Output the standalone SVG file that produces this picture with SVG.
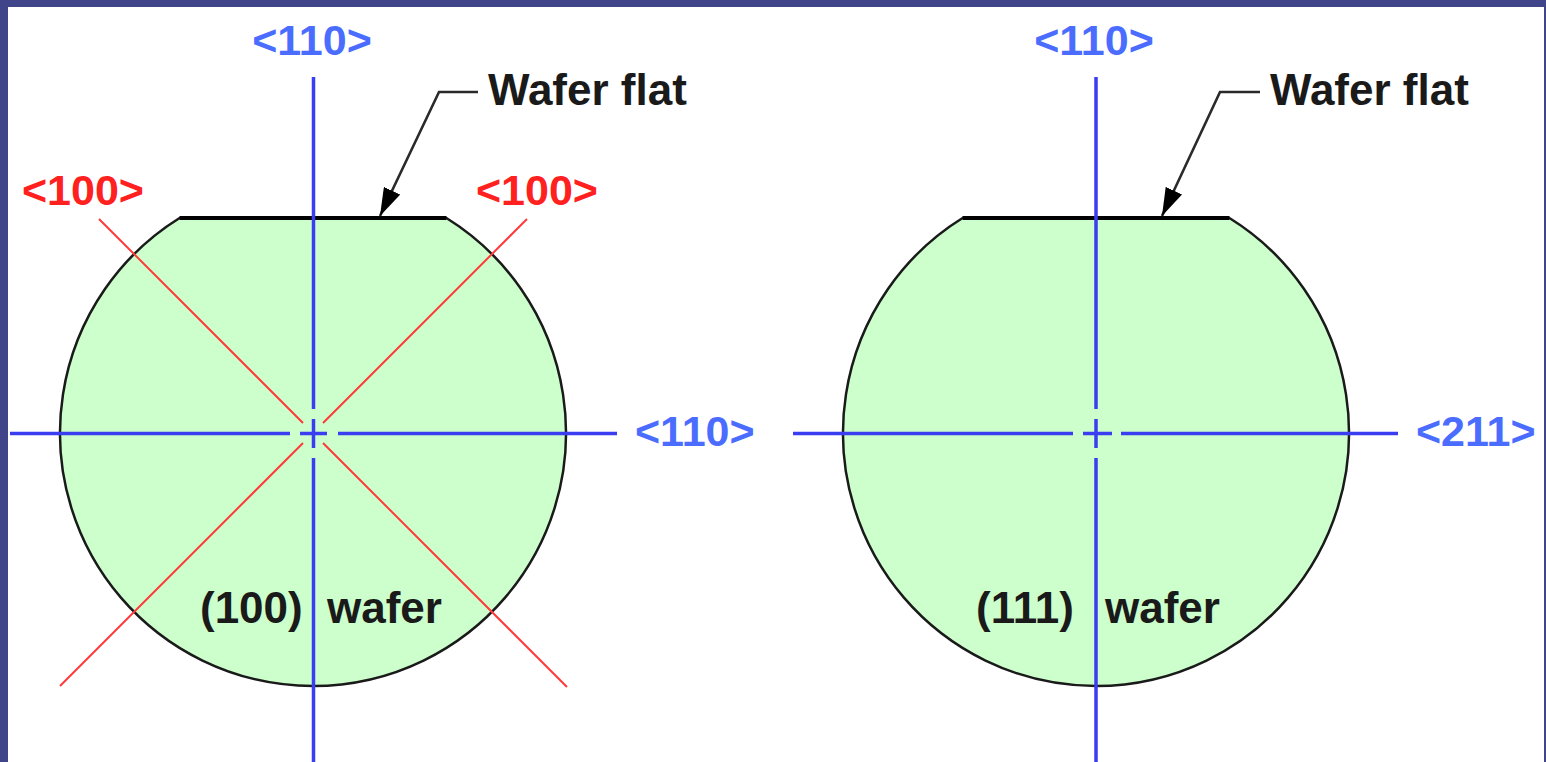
<svg xmlns="http://www.w3.org/2000/svg" width="1546" height="762" viewBox="0 0 1546 762">
<style>
.lbl{font-family:"Liberation Sans",Arial,sans-serif;font-size:43px;font-weight:bold}
.blue{fill:#4a6cff}
.red{fill:#ff2020}
.blk{fill:#1a1a1a;font-size:44px}
.axis{stroke:#3a3ef0;stroke-width:3.5;fill:none}
.diag{stroke:#ff3a3a;stroke-width:2;fill:none}
.wafer{fill:#ccffcc;stroke:#1a1a1a;stroke-width:2.5}
.flat{stroke:#000;stroke-width:4}
.lead{stroke:#2a2a2a;stroke-width:2.6;fill:none}
</style>
<defs>
<marker id="ah" viewBox="0 0 28 18" refX="28" refY="9" markerWidth="28" markerHeight="18" markerUnits="userSpaceOnUse" orient="auto">
<path d="M0,0 L28,9 L0,18 z" fill="#000"/>
</marker>
</defs>
<rect x="0" y="0" width="1546" height="762" fill="#404488"/>
<rect x="8" y="7" width="1536" height="755" fill="#ffffff"/>

<g id="wafer100">
<path class="wafer" d="M179.6,218 L446.4,218 A253,253 0 1 1 179.6,218 Z"/>
<line class="flat" x1="179.6" y1="218" x2="446.4" y2="218"/>
</g>
<g id="wafer111">
<path class="wafer" d="M962.6,218 L1229.4,218 A253,253 0 1 1 962.6,218 Z"/>
<line class="flat" x1="962.6" y1="218" x2="1229.4" y2="218"/>
</g>

<g id="connectors">
<path class="diag" d="M99,219 L303,423 M323,443 L567,687 M527,219 L323,423 M303,443 L60,686"/>
<path class="axis" d="M313.5,77 V409 M313.5,419 V448 M313.5,458 V762 M10,433.5 H290 M300,433.5 H327 M338,433.5 H617"/>
<path class="axis" d="M1096,77 V409 M1096,419 V448 M1096,458 V762 M793,433.5 H1073 M1083,433.5 H1112 M1121,433.5 H1398"/>
<path class="lead" d="M478,92 H439 L380,216" marker-end="url(#ah)"/>
<path class="lead" d="M1260,92 H1220 L1162,216" marker-end="url(#ah)"/>
</g>

<g id="labels">
<text class="lbl blue" x="312" y="55" text-anchor="middle">&lt;110&gt;</text>
<text class="lbl blue" x="1094" y="55" text-anchor="middle">&lt;110&gt;</text>
<text class="lbl blue" x="635" y="446">&lt;110&gt;</text>
<text class="lbl blue" x="1416" y="446">&lt;211&gt;</text>
<text class="lbl red" x="22" y="205">&lt;100&gt;</text>
<text class="lbl red" x="476" y="205">&lt;100&gt;</text>
<text class="lbl blk" x="488" y="105">Wafer flat</text>
<text class="lbl blk" x="1270" y="105">Wafer flat</text>
<text class="lbl blk" x="200" y="623">(100)</text>
<text class="lbl blk" x="327" y="623">wafer</text>
<text class="lbl blk" x="976" y="623">(111)</text>
<text class="lbl blk" x="1105" y="623">wafer</text>
</g>
</svg>
